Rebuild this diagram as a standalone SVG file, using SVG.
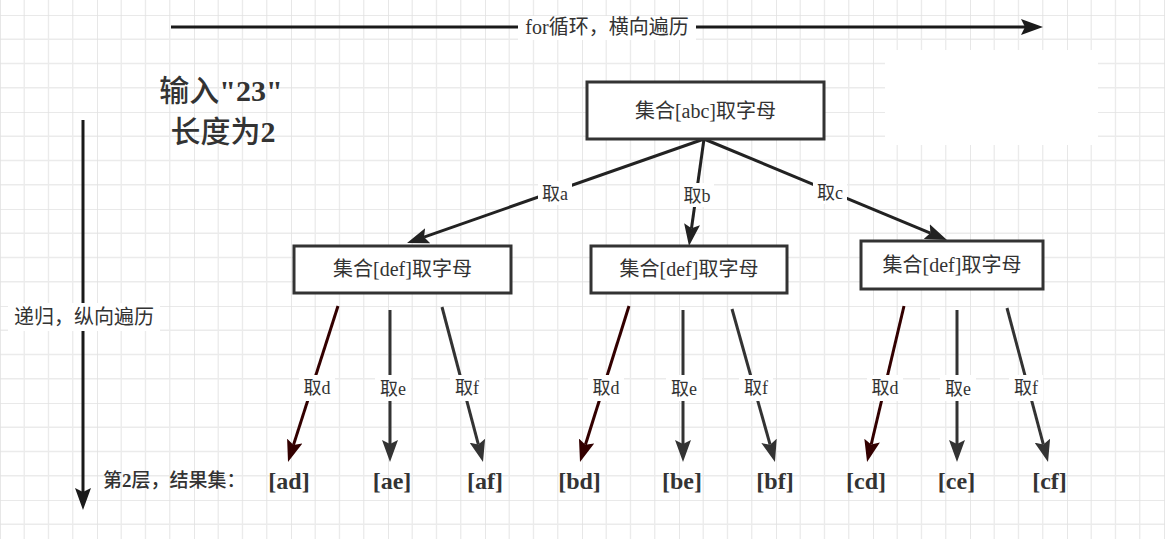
<svg xmlns="http://www.w3.org/2000/svg" width="1165" height="539" viewBox="0 0 1165 539">
  <style>
    .box { fill: #ffffff; stroke: #333333; stroke-width: 3; }
    .bt { font-family: "Liberation Serif", "Noto Sans CJK SC", serif; font-size: 20px; fill: #333333; text-anchor: middle; }
    .lbl { font-family: "Liberation Serif", "Noto Sans CJK SC", serif; font-size: 18px; fill: #333333; text-anchor: middle; }
    .big { font-family: "Liberation Serif", "Noto Sans CJK SC", serif; font-size: 20px; fill: #333333; text-anchor: middle; }
    .title { font-family: "Liberation Serif", "Noto Sans CJK SC", serif; font-size: 30px; font-weight: 500; fill: #333333; text-anchor: middle; }
    .b { font-weight: bold; }
    .res { font-family: "Liberation Serif", "Noto Sans CJK SC", serif; font-size: 24px; font-weight: bold; fill: #333333; text-anchor: middle; }
    .lay { font-family: "Liberation Serif", "Noto Sans CJK SC", serif; font-size: 19px; font-weight: 500; fill: #333333; }
    .bg { fill: #ffffff; }
    .e1 { fill: none; stroke: #222222; stroke-width: 3; marker-end: url(#ah1); }
    .e2 { fill: none; stroke: #333333; stroke-width: 3; marker-end: url(#ah2); }
    .ed { fill: none; stroke: #330000; stroke-width: 3; marker-end: url(#ahd); }
    .ax { fill: none; stroke: #1a1a1a; stroke-width: 3; marker-end: url(#ahx); }
  </style>
  <defs>
    <pattern id="grid" patternUnits="userSpaceOnUse" x="0" y="15" width="97" height="97">
      <rect width="97" height="97" fill="#ffffff"/>
      <path d="M24.25,0 V97 M48.5,0 V97 M72.75,0 V97 M0,24.25 H97 M0,48.5 H97 M0,72.75 H97" stroke="#ebebeb" stroke-width="1.3"/>
      <path d="M0,0 V97 M0,0 H97" stroke="#e2e2e2" stroke-width="1.6"/>
    </pattern>
    <marker id="ah1" markerUnits="userSpaceOnUse" markerWidth="22" markerHeight="16" refX="4" refY="8" orient="auto">
      <path d="M0,0 L22,8 L0,16 L4,8 Z" fill="#222222"/>
    </marker>
    <marker id="ah2" markerUnits="userSpaceOnUse" markerWidth="22" markerHeight="16" refX="4" refY="8" orient="auto">
      <path d="M0,0 L22,8 L0,16 L4,8 Z" fill="#333333"/>
    </marker>
    <marker id="ahd" markerUnits="userSpaceOnUse" markerWidth="22" markerHeight="16" refX="4" refY="8" orient="auto">
      <path d="M0,0 L22,8 L0,16 L4,8 Z" fill="#330000"/>
    </marker>
    <marker id="ahx" markerUnits="userSpaceOnUse" markerWidth="22" markerHeight="16" refX="4" refY="8" orient="auto">
      <path d="M0,0 L22,8 L0,16 L4,8 Z" fill="#1a1a1a"/>
    </marker>
  </defs>

  <rect x="0" y="0" width="1165" height="539" fill="url(#grid)"/>
  <rect x="885" y="50" width="213" height="95" fill="#ffffff"/>

  <g id="connectors">
    <line class="ax" x1="171" y1="27" x2="1025" y2="27"/>
    <line class="ax" x1="83" y1="120" x2="83" y2="492"/>
    <line class="e1" x1="704" y1="139" x2="424" y2="237.1"/>
    <line class="e1" x1="704" y1="139" x2="691.5" y2="228.2"/>
    <line class="e1" x1="704" y1="139" x2="930.4" y2="233.1"/>
    <line class="ed" x1="338" y1="306" x2="293.5" y2="444.9"/>
    <line class="e2" x1="390" y1="310" x2="390" y2="444"/>
    <line class="e2" x1="442" y1="307" x2="478.4" y2="444.6"/>
    <line class="ed" x1="629" y1="306" x2="585.4" y2="444.8"/>
    <line class="e2" x1="683" y1="310" x2="683" y2="444"/>
    <line class="e2" x1="732" y1="309" x2="770.1" y2="444.7"/>
    <line class="ed" x1="904" y1="306" x2="871.2" y2="444.5"/>
    <line class="e2" x1="957" y1="310" x2="957" y2="444"/>
    <line class="e2" x1="1007" y1="308" x2="1043.4" y2="444.6"/>

    <rect class="bg" x="518" y="16" width="178" height="24"/>
    <text class="big" x="607" y="34">for循环，横向遍历</text>
    <rect class="bg" x="8" y="303" width="152" height="28"/>
    <text class="big" x="84" y="324">递归，纵向遍历</text>

    <rect class="bg" x="538" y="181" width="34" height="24"/>
    <text class="lbl" x="555" y="200">取a</text>
    <rect class="bg" x="680" y="183" width="34" height="24"/>
    <text class="lbl" x="697" y="202">取b</text>
    <rect class="bg" x="813" y="180" width="34" height="24"/>
    <text class="lbl" x="830" y="199">取c</text>

    <rect class="bg" x="299" y="375" width="36" height="26"/>
    <text class="lbl" x="317" y="394">取d</text>
    <rect class="bg" x="375" y="375" width="36" height="26"/>
    <text class="lbl" x="393" y="395">取e</text>
    <rect class="bg" x="450" y="375" width="34" height="26"/>
    <text class="lbl" x="467" y="394">取f</text>

    <rect class="bg" x="588" y="375" width="36" height="26"/>
    <text class="lbl" x="606" y="394">取d</text>
    <rect class="bg" x="666" y="375" width="36" height="26"/>
    <text class="lbl" x="684" y="395">取e</text>
    <rect class="bg" x="739" y="375" width="34" height="26"/>
    <text class="lbl" x="756" y="394">取f</text>

    <rect class="bg" x="867" y="375" width="36" height="26"/>
    <text class="lbl" x="885" y="394">取d</text>
    <rect class="bg" x="940" y="375" width="36" height="26"/>
    <text class="lbl" x="958" y="395">取e</text>
    <rect class="bg" x="1009" y="375" width="34" height="26"/>
    <text class="lbl" x="1026" y="394">取f</text>
  </g>

  <g id="title">
    <text class="title" x="221" y="101">输入<tspan class="b">"23"</tspan></text>
    <text class="title" x="223" y="142">长度为<tspan class="b">2</tspan></text>
  </g>

  <g id="root">
    <rect class="box" x="587" y="82" width="237" height="57"/>
    <text class="bt" x="705.5" y="118">集合[abc]取字母</text>
  </g>
  <g id="node-a">
    <rect class="box" x="294" y="246" width="217" height="47"/>
    <text class="bt" x="402.5" y="276">集合[def]取字母</text>
  </g>
  <g id="node-b">
    <rect class="box" x="591" y="246" width="196" height="47"/>
    <text class="bt" x="689" y="276">集合[def]取字母</text>
  </g>
  <g id="node-c">
    <rect class="box" x="861" y="241" width="182" height="48"/>
    <text class="bt" x="952" y="272">集合[def]取字母</text>
  </g>

  <g id="results">
    <text class="lay" x="103" y="487">第<tspan class="b">2</tspan>层，结果集：</text>
    <text class="res" x="289" y="489">[ad]</text>
    <text class="res" x="392" y="489">[ae]</text>
    <text class="res" x="485" y="489">[af]</text>
    <text class="res" x="579.5" y="489">[bd]</text>
    <text class="res" x="682" y="489">[be]</text>
    <text class="res" x="775" y="489">[bf]</text>
    <text class="res" x="866" y="489">[cd]</text>
    <text class="res" x="956.5" y="489">[ce]</text>
    <text class="res" x="1049.5" y="489">[cf]</text>
  </g>
</svg>
